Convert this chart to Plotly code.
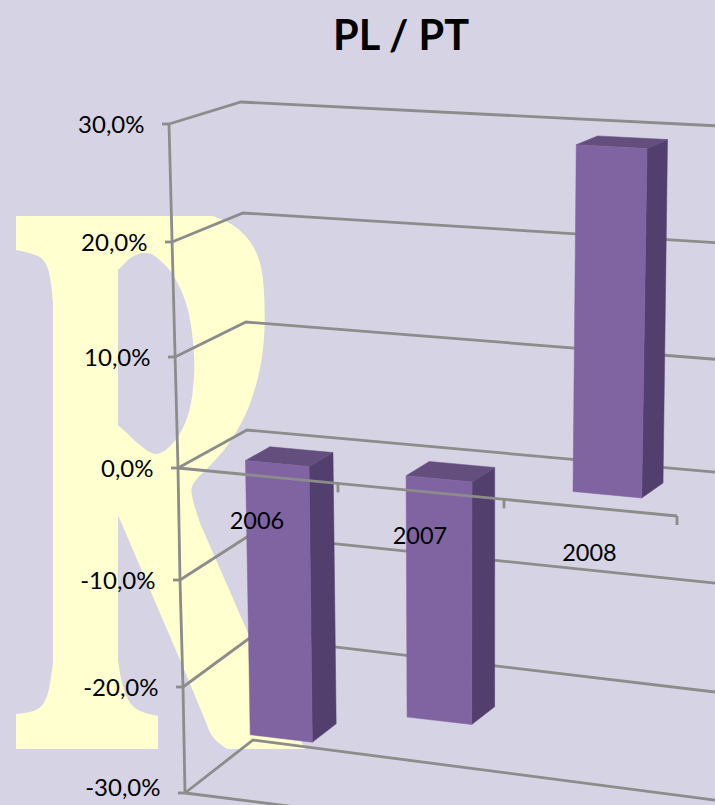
import numpy as np
import plotly.graph_objects as go

# ---- chart data ----
categories = ["2006", "2007", "2008"]
pl_pt = [-25.5, -22.1, 29.4]
value_ticks = [30, 20, 10, 0, -10, -20, -30]
value_labels = ["30,0%", "20,0%", "10,0%", "0,0%", "-10,0%", "-20,0%", "-30,0%"]

# ---- styles ----
BG = "#D6D3E5"
GRID = "#8C8C8A"
FRONT = "#8064A2"
TOP = "#634E7E"
SIDE = "#523F6D"
YELLOW = "#FFFFD0"
FONT = "Lato"

# ---- box of the 3-D chart as seen on the page, used as a scale:
#      (category position, depth 0..1, value) -> page pixel
v_levels = [-30, -20, -10, 0, 10, 20, 30]            # ascending, for interpolation
front_left = ([185, 183, 180, 178, 175, 172, 169], [793, 687, 580, 468, 357, 242, 124])
back_left = ([253, 251, 250, 247, 246, 243, 241], [740, 637, 535, 430, 322, 213, 102])
back_right = ([730, 732, 733, 735, 737, 738, 740], [802, 694, 585, 474, 361, 244, 127])
front_right = ([670, 672, 675, 677, 680, 682, 685], [854, 741, 628, 516, 395, 273, 152])
cat_fraction = [0, 0.3206, 0.6533, 1.0]              # foreshortening along the category axis


def proj(a, d, v):
    f = float(np.interp(a, [0, 1, 2, 3], cat_fraction))
    out = []
    for k in (0, 1):
        fl = np.interp(v, v_levels, front_left[k])
        bl = np.interp(v, v_levels, back_left[k])
        br = np.interp(v, v_levels, back_right[k])
        fr = np.interp(v, v_levels, front_right[k])
        out.append((1 - d) * ((1 - f) * fl + f * fr) + d * ((1 - f) * bl + f * br))
    return out[0], out[1]


def polyline(pts):
    xy = [proj(*p) for p in pts]
    return [q[0] for q in xy], [q[1] for q in xy]


fig = go.Figure()

# ---- wall gridlines ----
gx, gy = [], []
n_cat = len(categories)
for v in value_ticks:
    x, y = polyline([(0, 0, v), (0, 1, v), (n_cat, 1, v)])
    gx += x + [None]
    gy += y + [None]
    x0, y0 = proj(0, 0, v)
    gx += [x0 - 7, x0, None]
    gy += [y0, y0, None]
x, y = polyline([(0, 0, v) for v in value_ticks])
gx += x + [None]
gy += y + [None]
x, y = polyline([(0, 0, value_ticks[-1]), (n_cat, 0, value_ticks[-1])])
gx += x + [None]
gy += y + [None]
fig.add_trace(go.Scatter(x=gx, y=gy, mode="lines", line=dict(color=GRID, width=2.8), hoverinfo="skip"))

# ---- bars ----
U0, U1, W0, W1 = 0.29, 0.69, 0.31, 0.67
for i, val in enumerate(pl_pt):
    a0, a1 = i + U0, i + U1
    hi, lo = max(val, 0), min(val, 0)
    faces = [
        ([(a1, W0, hi), (a1, W1, hi), (a1, W1, lo), (a1, W0, lo)], SIDE),
        ([(a0, W0, hi), (a0, W1, hi), (a1, W1, hi), (a1, W0, hi)], TOP),
        ([(a0, W0, hi), (a1, W0, hi), (a1, W0, lo), (a0, W0, lo)], FRONT),
    ]
    for pts, col in faces:
        x, y = polyline(pts + pts[:1])
        fig.add_trace(go.Scatter(x=x, y=y, mode="lines", fill="toself", fillcolor=col,
                                 line=dict(color=col, width=0.5), hoverinfo="skip"))

# ---- category axis at zero, in front of the bars ----
ax, ay = polyline([(0, 0, 0), (1, 0, 0), (2, 0, 0), (n_cat, 0, 0)])
ax += [None]
ay += [None]
for k in range(1, n_cat + 1):
    x0, y0 = proj(k, 0, 0)
    ax += [x0, x0, None]
    ay += [y0, y0 + 9, None]
fig.add_trace(go.Scatter(x=ax, y=ay, mode="lines", line=dict(color=GRID, width=2.8), hoverinfo="skip"))

# ---- text labels ----
vt = [proj(0, 0, v) for v in value_ticks]
fig.add_trace(go.Scatter(x=[q[0] - 24.5 for q in vt], y=[min(q[1] + 3, 789.5) for q in vt], mode="text",
                         text=value_labels, textposition="middle left",
                         textfont=dict(family=FONT, size=24, color="black"), hoverinfo="skip"))
ct = [proj(i + 0.5, 0, 0) for i in range(n_cat)]
fig.add_trace(go.Scatter(x=[q[0] - 1 for q in ct], y=[q[1] + 47 for q in ct], mode="text",
                         text=categories, textposition="middle center",
                         textfont=dict(family=FONT, size=23.5, color="black"), hoverinfo="skip"))


# ---- background letter (decorative picture behind the chart) ----
def chaikin(run, n=3):
    pts = np.array(run, dtype=float)
    for _ in range(n):
        q = [pts[0]]
        for a, b in zip(pts[:-1], pts[1:]):
            q += [0.75 * a + 0.25 * b, 0.25 * a + 0.75 * b]
        q.append(pts[-1])
        pts = np.array(q)
    return [tuple(p) for p in pts]


outer = (
    [(16, 216)]
    + chaikin([(213, 216), (233, 224), (250, 240), (260, 260), (264, 285), (265, 323), (263, 353),
               (257, 383), (247, 413), (230, 443), (213, 463), (192, 483), (191, 495), (200, 523)])
    + [(248, 633)]
    + chaikin([(290, 720), (305, 749)], 0)
    + chaikin([(227, 749), (212, 738), (203, 715), (183, 667)], 2)
    + [(118, 515), (118, 660)]
    + chaikin([(118, 660), (121, 680), (128, 702), (140, 712), (158, 716)], 2)
    + [(158, 749), (16, 749)]
    + chaikin([(16, 714), (38, 711), (48, 697), (53, 663)], 2)
    + chaikin([(53, 303), (50, 273), (43, 258), (30, 253), (16, 250)], 2)
)
hole = chaikin([(118, 270), (133, 255), (147, 252), (157, 257), (173, 273), (187, 303), (193, 337), (195, 373),
                (190, 413), (177, 440), (160, 455), (147, 452), (118, 425)], 2)


def to_path(pts):
    return "M" + " L".join(f"{a:.1f},{b:.1f}" for a, b in pts) + " Z"


fig.add_shape(type="path", path=to_path(outer) + " " + to_path(hole), xref="x", yref="y",
              fillcolor=YELLOW, line=dict(width=0), layer="below")

fig.update_layout(
    width=715, height=805, autosize=False,
    margin=dict(l=0, r=0, t=0, b=0),
    paper_bgcolor=BG, plot_bgcolor=BG, showlegend=False,
    title=dict(text="<b>PL / PT</b>", x=401 / 715, y=1 - 35 / 805, xanchor="center", yanchor="middle",
               font=dict(family=FONT, size=41.5, color="black")),
    xaxis=dict(range=[0, 715], visible=False, fixedrange=True),
    yaxis=dict(range=[805, 0], visible=False, fixedrange=True),
)
fig.write_html("out.html", config=dict(displayModeBar=False),
               post_script="document.body.style.margin='0';document.documentElement.style.overflow='hidden';")
